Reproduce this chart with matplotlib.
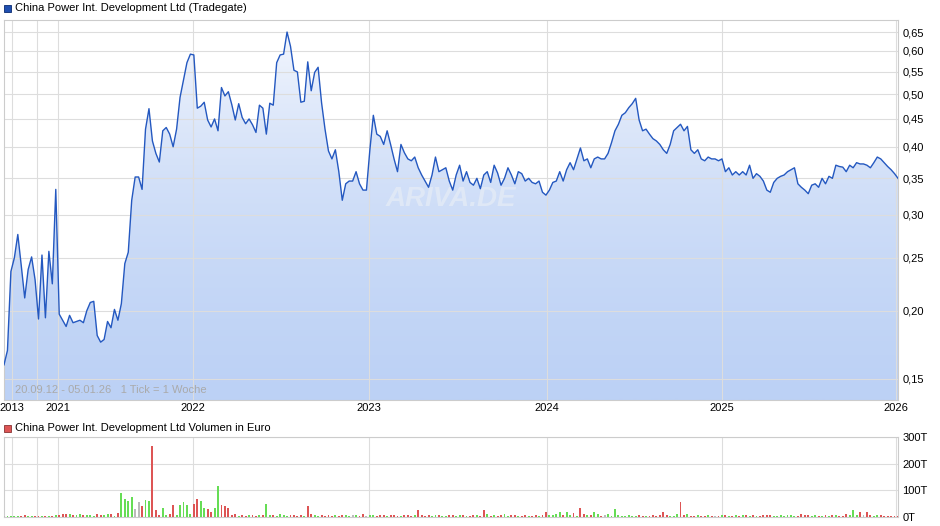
import numpy as np
import matplotlib
matplotlib.use("Agg")
import matplotlib.pyplot as plt
from matplotlib.ticker import FixedLocator, NullFormatter
from matplotlib.patches import Polygon, Rectangle
from matplotlib.colors import LinearSegmentedColormap

plt.rcParams['font.family'] = ['Liberation Sans', 'DejaVu Sans']

prices = [0.159,0.169,0.236,0.250,0.276,0.242,0.211,0.238,0.251,0.228,0.193,0.253,0.194,0.257,0.224,0.334,
          0.197,0.192,0.187,0.196,0.190,0.191,0.192,0.190,0.200,0.207,0.208,0.180,0.175,0.177,0.191,0.186,
          0.201,0.192,0.206,0.244,0.256,0.319,0.352,0.352,0.334,0.431,0.470,0.410,0.389,0.375,0.428,0.434,
          0.422,0.400,0.431,0.493,0.530,0.571,0.592,0.590,0.471,0.475,0.483,0.448,0.435,0.450,0.428,0.514,
          0.496,0.505,0.478,0.448,0.480,0.453,0.441,0.450,0.439,0.425,0.477,0.471,0.422,0.481,0.477,0.571,
          0.590,0.592,0.650,0.612,0.553,0.549,0.483,0.485,0.573,0.507,0.548,0.560,0.482,0.431,0.393,0.380,
          0.395,0.360,0.319,0.342,0.346,0.346,0.360,0.342,0.333,0.333,0.395,0.457,0.422,0.418,0.404,0.428,
          0.404,0.380,0.360,0.404,0.390,0.380,0.377,0.383,0.366,0.355,0.346,0.337,0.355,0.383,0.360,0.363,
          0.366,0.346,0.333,0.355,0.370,0.346,0.360,0.344,0.340,0.350,0.335,0.355,0.360,0.344,0.370,0.358,
          0.340,0.350,0.366,0.355,0.342,0.360,0.357,0.346,0.350,0.344,0.342,0.346,0.330,0.326,0.333,0.344,
          0.346,0.360,0.346,0.363,0.374,0.363,0.380,0.398,0.377,0.380,0.366,0.380,0.383,0.380,0.380,0.389,
          0.407,0.428,0.440,0.457,0.462,0.472,0.480,0.491,0.448,0.428,0.431,0.422,0.414,0.410,0.404,0.395,
          0.389,0.404,0.428,0.434,0.440,0.428,0.436,0.395,0.389,0.395,0.380,0.377,0.383,0.380,0.380,0.377,
          0.380,0.360,0.366,0.355,0.360,0.355,0.360,0.355,0.370,0.350,0.357,0.353,0.346,0.333,0.330,0.344,
          0.350,0.353,0.355,0.360,0.363,0.366,0.342,0.337,0.333,0.328,0.340,0.342,0.337,0.350,0.342,0.353,
          0.350,0.370,0.368,0.367,0.360,0.370,0.366,0.374,0.372,0.372,0.370,0.366,0.374,0.383,0.380,0.374,
          0.368,0.363,0.357,0.350]

volumes = [4,5,4,3,5,4,6,5,4,3,4,3,4,5,4,6,7,12,10,12,
           8,9,11,6,7,9,5,10,8,6,12,10,5,14,90,68,60,75,30,55,
           40,65,60,265,28,8,32,6,10,45,8,45,55,45,10,50,68,60,35,30,
           20,35,115,45,40,32,8,10,5,6,4,8,6,5,8,6,48,6,8,5,
           10,6,5,8,6,5,7,4,40,12,6,5,7,4,6,5,8,4,6,7,
           5,8,6,5,10,4,8,6,5,6,7,5,8,6,4,5,7,6,5,6,
           28,6,4,6,5,8,6,5,4,6,7,5,8,6,5,4,7,6,5,28,
           10,4,6,5,8,12,5,6,8,4,5,6,5,4,6,5,7,20,8,6,
           10,18,8,20,6,15,4,32,10,6,8,18,10,4,8,10,4,30,6,4,
           5,6,4,5,6,5,4,5,6,4,8,18,6,5,4,12,55,8,10,4,
           5,6,4,5,6,5,4,5,6,8,5,4,6,5,7,8,5,6,4,5,
           7,8,6,5,4,6,5,8,6,5,4,12,6,8,5,6,5,4,6,5,
           8,6,5,4,12,6,25,8,20,6,18,6,5,8,6,5,4,5,4,5]

# direction of the larger volume bars (u=up/green, d=down/red, f=flat/grey)
vol_dir = {34: 'u', 35: 'u', 36: 'u', 37: 'u', 38: 'f', 39: 'f', 40: 'd', 41: 'u', 42: 'u',
           43: 'd', 44: 'd', 46: 'u', 49: 'd', 51: 'u', 52: 'u', 53: 'u', 55: 'd', 56: 'd',
           57: 'u', 58: 'u', 59: 'd', 60: 'd', 61: 'u', 62: 'u', 63: 'd', 64: 'd', 65: 'd',
           76: 'u', 88: 'd', 120: 'd', 139: 'd', 167: 'd', 177: 'u', 196: 'd', 246: 'u'}

yticks = [0.15, 0.20, 0.25, 0.30, 0.35, 0.40, 0.45, 0.50, 0.55, 0.60, 0.65]
ytick_labels = ['0,15', '0,20', '0,25', '0,30', '0,35', '0,40', '0,45', '0,50', '0,55', '0,60', '0,65']
xtick_labels = ['2013', '2021', '2022', '2023', '2024', '2025', '2026']
xtick_frac = [0.009, 0.060, 0.211, 0.408, 0.607, 0.803, 0.998]
vol_ticks = [0, 100, 200, 300]
vol_labels = ['0T', '100T', '200T', '300T']

n = len(prices)
x = np.arange(n)
p = np.array(prices)
xmax = n - 1
xticks = [f * xmax for f in xtick_frac]
minor_grid = [0.037 * xmax]

W, H = 940, 526
fig = plt.figure(figsize=(9.4, 5.26), dpi=100)
L, R = 4 / W, 898 / W
ax = fig.add_axes([L, 1 - 400 / H, R - L, 380 / H])
ax.set_yscale('log')
ax.set_xlim(0, xmax)
ymin, ymax = 0.137, 0.684
ax.set_ylim(ymin, ymax)

grad = np.linspace(0, 1, 256).reshape(-1, 1)
cm = LinearSegmentedColormap.from_list('g', ['#bcd1f5', '#f7f9fe'])
im = ax.imshow(grad, cmap=cm, aspect='auto', extent=[0, xmax, ymin, ymax], origin='lower', zorder=1)
verts = [(0, ymin)] + list(zip(x, p)) + [(xmax, ymin)]
poly = Polygon(verts, closed=True, facecolor='none', edgecolor='none')
ax.add_patch(poly)
im.set_clip_path(poly)
ax.plot(x, p, color='#2458c0', lw=1.0, zorder=3)

ax.yaxis.set_major_locator(FixedLocator(yticks))
ax.yaxis.set_minor_locator(FixedLocator([]))
ax.yaxis.set_minor_formatter(NullFormatter())
ax.set_yticklabels(ytick_labels)
ax.yaxis.tick_right()
ax.set_xticks(xticks)
ax.set_xticklabels(xtick_labels)
ax.set_xticks(minor_grid, minor=True)
ax.grid(True, which='both', color='#dddddd', lw=0.8, zorder=0)
ax.tick_params(axis='both', which='both', length=0, labelsize=8, pad=3)
ax.tick_params(axis='x', pad=2)
for s in ax.spines.values():
    s.set_color('#cccccc'); s.set_linewidth(0.8)
ax.text(0.012, 0.012, '20.09.12 - 05.01.26   1 Tick = 1 Woche', transform=ax.transAxes,
        fontsize=8, color='#aaaaaa', va='bottom', zorder=4)
ax.text(0.5, 0.53, 'ARIVA.DE', transform=ax.transAxes, fontsize=20, color='#e4ebf6',
        alpha=0.8, fontweight='bold', style='italic', ha='center', va='center', zorder=2)

fig.patches.append(Rectangle((4 / W, 1 - 12 / H), 7 / W, 7 / H, transform=fig.transFigure,
                             facecolor='#1f4fb0', edgecolor='#0a2a70', lw=0.6))
fig.text(15 / W, 1 - 8 / H, 'China Power Int. Development Ltd (Tradegate)', fontsize=8, va='center')
fig.patches.append(Rectangle((4 / W, 1 - 432 / H), 7 / W, 7 / H, transform=fig.transFigure,
                             facecolor='#dd5555', edgecolor='#883333', lw=0.6))
fig.text(15 / W, 1 - 428 / H, 'China Power Int. Development Ltd Volumen in Euro', fontsize=8, va='center')

av = fig.add_axes([L, 1 - 517 / H, R - L, 80 / H])
nv = len(volumes)
xv = np.linspace(0, xmax, nv)
cmap_dir = {'u': '#66dd55', 'd': '#dd5555', 'f': '#bbbbbb'}
cols = []
for k, xi in enumerate(xv):
    if k in vol_dir:
        cols.append(cmap_dir[vol_dir[k]])
        continue
    i = int(round(xi))
    d = p[i] - p[i - 1] if i > 0 else 0
    cols.append(cmap_dir['u'] if d > 0 else (cmap_dir['d'] if d < 0 else cmap_dir['f']))
av.bar(xv, volumes, width=0.55, color=cols, zorder=3)
av.set_xlim(0, xmax)
av.set_ylim(0, 300)
av.set_yticks(vol_ticks)
av.set_yticklabels(vol_labels)
av.yaxis.tick_right()
av.set_xticks(xticks)
av.set_xticklabels([])
av.set_xticks(minor_grid, minor=True)
av.grid(True, which='both', color='#dddddd', lw=0.8, zorder=0)
av.tick_params(axis='both', which='both', length=0, labelsize=8, pad=3)
for s in av.spines.values():
    s.set_color('#cccccc'); s.set_linewidth(0.8)

fig.savefig('out.png', dpi=100)
